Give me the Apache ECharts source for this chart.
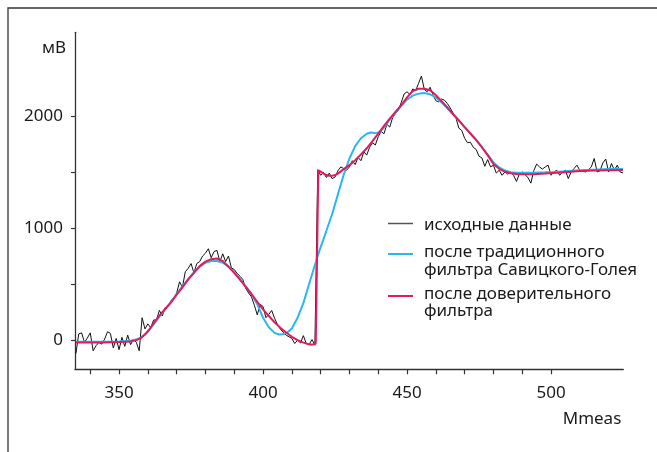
<!DOCTYPE html>
<html>
<head>
<meta charset="utf-8">
<script src="https://cdn.jsdelivr.net/npm/echarts@6/dist/echarts.min.js"></script>
<style>
  html, body { margin: 0; padding: 0; background: #fff; }
  #chart { width: 657px; height: 452px; }
</style>
</head>
<body>
<div id="chart"></div>
<script>
// исходные данные: шаг 1 по Mmeas, начиная с 335
const rawStart = 335;
const rawValues = [
  -120, 55, 65, -20, 20, 65, -95, -50, -20, -35,
  10, 75, 60, -70, 15, -85, 25, -55, 45, -40,
  10, -20, -95, 200, 100, 145, 110, 180, 180, 265,
  215, 290, 300, 350, 380, 420, 520, 470, 610, 640,
  683, 600, 683, 700, 750, 775, 815, 735, 790, 800,
  700, 770, 700, 750, 645, 630, 595, 570, 540, 460,
  420, 385, 310, 225, 320, 300, 200, 230, 265, 195,
  140, 100, 70, 45, 30, 15, -30, 0, -25, 40,
  -30, -40, 5, -45,
  1520, 1470, 1495, 1450, 1490, 1440, 1455, 1510, 1545, 1530,
  1515, 1545, 1600, 1565, 1630, 1600, 1680, 1650, 1720, 1760,
  1740, 1815, 1860, 1840, 1925, 1900, 1985, 2020, 2050, 2120,
  2195, 2215, 2190, 2240, 2225, 2290, 2355, 2235, 2215, 2255,
  2190, 2135, 2125, 2150, 2140, 2110, 2070, 2025, 1980, 1890,
  1870, 1800, 1760, 1765, 1720, 1700, 1640, 1625, 1550, 1610,
  1545, 1560, 1490, 1515, 1470, 1500, 1480, 1500, 1470, 1415,
  1480, 1500, 1475, 1450, 1400, 1510, 1570, 1545, 1525, 1545,
  1560, 1470, 1500, 1515, 1470, 1500, 1515, 1440, 1500, 1530,
  1560, 1515, 1505, 1500, 1520, 1545, 1620, 1500, 1510, 1580,
  1615, 1500, 1575, 1515, 1560, 1500, 1490
];

// после традиционного фильтра Савицкого-Голея
const sgX = [335,340,345,350,354,356,358,360,362,364,366,368,370,372,374,376,378,380,382,384,
  386,388,390,392,394,396,398,400,402,404,405.5,407,408.5,410,412,414,416,418,420,422,
  424,426,428,430,432,434,436,437.5,439,440.5,442,444,446,448,450,452,454,456,458,460,462,
  464,466,468,470,472,474,476,478,480,482,484,486,488,490,494,498,502,506,510,515,520,525];
const sgValues = [-15,-15,-15,-12,-5,5,30,75,140,210,275,340,410,480,545,605,655,690,705,705,
  690,655,605,545,480,410,320,200,115,65,50,52,70,104,200,330,500,670,830,975,
  1125,1300,1475,1620,1730,1800,1840,1852,1846,1855,1895,1965,2030,2090,2145,2180,2198,2203,2192,2165,2120,
  2068,2012,1958,1900,1843,1786,1722,1655,1585,1540,1512,1498,1492,1492,1493,1496,1500,1508,1515,1520,1525,1525];

// после доверительного фильтра
const confX = [335,338,341,344,347,350,352,354,356,357.5,359,360.5,362,364,366,368,370,372,374,376,
  378,380,382,384,386,388,390,392,394,396,398,400,402,404,406,408,410,412,414,416,
  417.5,418.3,419.2,420,421,422,423,424,425,426,428,430,432,434,436,438,440,442,444,446,
  448,450,452,454,456,458,460,462,464,466,468,470,472,474,476,478,480,482,484,486,
  488,490,494,498,502,506,510,515,520,525];
const confValues = [-22,-22,-20,-20,-18,-17,-15,-12,0,18,50,95,150,218,278,335,405,470,540,600,
  660,700,722,728,705,655,600,540,475,410,342,275,215,160,110,68,30,0,-22,-38,
  -38,-30,1515,1502,1485,1472,1465,1465,1472,1485,1525,1560,1605,1655,1711,1775,1842,1910,1975,2035,
  2095,2165,2222,2242,2242,2228,2185,2130,2075,2015,1960,1900,1843,1786,1720,1650,1570,1528,1502,1488,
  1482,1480,1480,1485,1492,1500,1508,1512,1515,1518];

const xTicks = [340, 350, 360, 370, 380, 390, 400, 410, 420, 430, 440, 450, 460, 470, 480, 490, 500];
const xLabels = [350, 400, 450, 500];
const yTicks = [0, 500, 1000, 1500, 2000];
const yLabels = [0, 1000, 2000];

const names = ["исходные данные", "после традиционного\nфильтра Савицкого-Голея", "после доверительного\nфильтра"];
const colors = ["#111111", "#2bb7ec", "#e5195b"];

const rawData = rawValues.map((v, i) => [rawStart + i, v]);
const sgData = sgX.map((x, i) => [x, sgValues[i]]);
const confData = confX.map((x, i) => [x, confValues[i]]);

const font = "'Noto Sans', 'Open Sans', sans-serif";
const axisColor = "#333";

function legendAt(top, idx, iconPath, iconColor) {
  return {
    orient: "vertical",
    left: 388,
    top: top,
    padding: 0,
    itemWidth: 31,
    itemHeight: 18,
    selectedMode: false,
    itemStyle: { borderWidth: 0 },
    textStyle: { fontFamily: font, fontSize: 17, color: "#1a1a1a", lineHeight: 17.5 },
    data: [{ name: names[idx], icon: iconPath, itemStyle: { color: iconColor } }]
  };
}

const chart = echarts.init(document.getElementById("chart"));
chart.setOption({
  animation: false,
  grid: { left: 75, top: 32.3, right: 33.7, bottom: 82.7 },
  graphic: [{
    type: "rect",
    silent: true,
    shape: { x: 8, y: 8, width: 800, height: 600 },
    style: { fill: "none", stroke: "#333", lineWidth: 1.3 }
  }],
  legend: [
    legendAt(216, 0, "path://M0,0h0.01v0.01h-0.01z M0,6.75h25v1.5h-25z M31,18h-0.01v-0.01h0.01z", "#555"),
    legendAt(243.75, 1, "path://M0,0h0.01v0.01h-0.01z M0,0.75h25v2h-25z M31,18h-0.01v-0.01h0.01z", colors[1]),
    legendAt(285.25, 2, "path://M0,0h0.01v0.01h-0.01z M0,1.25h25v2h-25z M31,18h-0.01v-0.01h0.01z", colors[2])
  ],
  xAxis: {
    type: "value",
    min: 334.7,
    max: 525.1,
    name: "Mmeas",
    nameLocation: "end",
    nameGap: -2,
    nameTextStyle: { fontFamily: font, fontSize: 17, color: "#1a1a1a", align: "right", verticalAlign: "top", padding: [41, 0, 0, 0] },
    axisLine: { onZero: false, lineStyle: { color: axisColor, width: 1.3 } },
    axisTick: { customValues: xTicks, length: 5, lineStyle: { color: axisColor, width: 1.2 } },
    axisLabel: { customValues: xLabels, margin: 15, fontFamily: font, fontSize: 17, color: "#1a1a1a", formatter: v => String(v) },
    splitLine: { show: false }
  },
  yAxis: {
    type: "value",
    min: -260,
    max: 2745,
    name: "мВ",
    nameLocation: "end",
    nameGap: -16,
    nameTextStyle: { fontFamily: font, fontSize: 17, color: "#1a1a1a", align: "right", verticalAlign: "middle", padding: [0, 9, 0, 0] },
    axisLine: { show: true, onZero: false, lineStyle: { color: axisColor, width: 1.3 } },
    axisTick: { show: true, customValues: yTicks, length: 4, lineStyle: { color: axisColor, width: 1.2 } },
    axisLabel: { customValues: yLabels, margin: 12, fontFamily: font, fontSize: 17, color: "#1a1a1a", formatter: v => String(v) },
    splitLine: { show: false }
  },
  series: [
    {
      name: names[0], type: "line", data: rawData, symbol: "none",
      lineStyle: { color: colors[0], width: 1 }, itemStyle: { color: colors[0] }, z: 2
    },
    {
      name: names[1], type: "line", data: sgData, symbol: "none",
      lineStyle: { color: colors[1], width: 2 }, itemStyle: { color: colors[1] }, z: 3
    },
    {
      name: names[2], type: "line", data: confData, symbol: "none",
      lineStyle: { color: colors[2], width: 2 }, itemStyle: { color: colors[2] }, z: 4
    }
  ]
});
</script>
</body>
</html>
